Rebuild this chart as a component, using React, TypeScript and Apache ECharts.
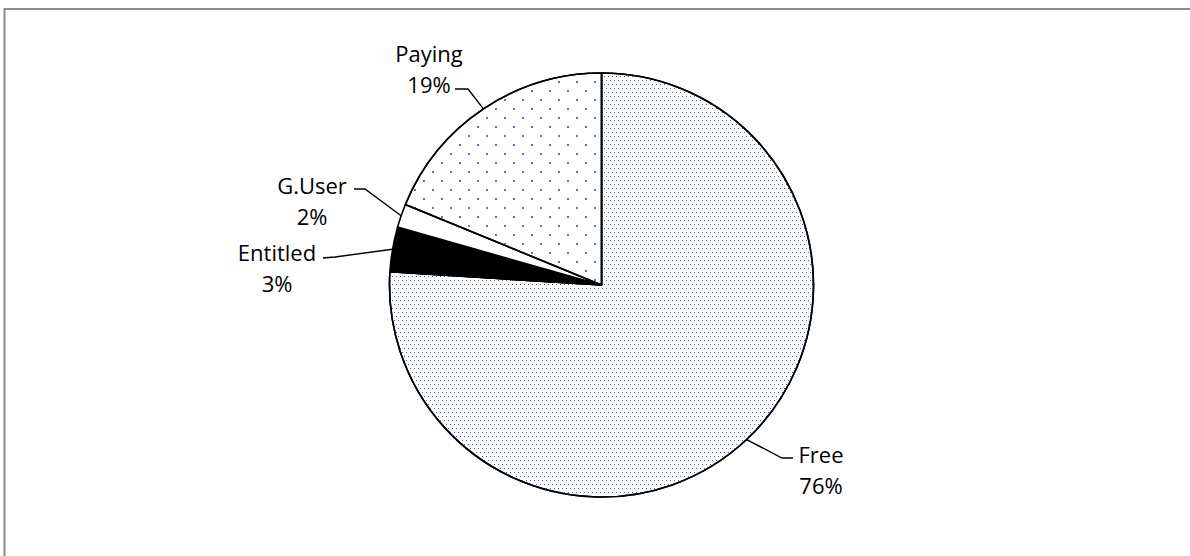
import React, { useEffect, useRef } from "react";
import * as echarts from "echarts";

// ---- data ----
const categories = ["Free", "Entitled", "G.User", "Paying"];
const shares = [76.0, 3.4, 1.8, 18.8];

// ---- label placement (label block centre and leader-line bends), page px ----
const labelCentres: number[][] = [
  [821, 469],
  [277, 267],
  [312, 200],
  [429, 68],
];
const leaderBends: number[][][] = [
  [[782, 458], [793, 458]],
  [[335, 257], [323, 258]],
  [[365, 189], [354, 189]],
  [[468, 89], [455, 89]],
];

const BLUE = "#4a7cc9";
const DENSE_BLUE = "#3a68b8";
const FONT = "'Open Sans', 'Noto Sans', sans-serif";

export default function App() {
  const ref = useRef<HTMLDivElement>(null);
  useEffect(() => {
    document.body.style.margin = "0";
    const chart = echarts.init(ref.current!, undefined, { renderer: "svg" });

    const styles = [
      {
        color: "#ffffff",
        decal: {
          symbol: "rect",
          symbolSize: 1,
          color: DENSE_BLUE,
          backgroundColor: "#ffffff",
          dashArrayX: [
            [1, 3],
            [0, 2, 1, 1],
          ],
          dashArrayY: [1, 3],
          rotation: 0,
        },
      },
      { color: "#000000" },
      { color: "#ffffff" },
      {
        color: "#ffffff",
        decal: {
          symbol: "rect",
          symbolSize: 1,
          color: BLUE,
          backgroundColor: "#ffffff",
          dashArrayX: [
            [1.5, 15.5],
            [0, 8.5, 1.5, 7],
          ],
          dashArrayY: [1.5, 7],
          rotation: 0,
        },
      },
    ];

    chart.setOption({
      animation: false,
      backgroundColor: "#ffffff",
      graphic: [
        {
          type: "rect",
          shape: { x: 4.5, y: 9, width: 1200, height: 600 },
          style: { fill: "none", stroke: "#8c8c8c", lineWidth: 2 },
          silent: true,
        },
      ],
      series: [
        {
          type: "pie",
          center: [601.5, 285],
          radius: 212,
          startAngle: 90,
          clockwise: true,
          percentPrecision: 0,
          avoidLabelOverlap: false,
          itemStyle: { borderColor: "#000000", borderWidth: 1.6 },
          label: {
            show: true,
            position: "outside",
            formatter: "{b}\n{d}%",
            fontFamily: FONT,
            fontSize: 22,
            lineHeight: 31,
            color: "#000000",
            align: "center",
          },
          labelLine: {
            show: true,
            length: 20,
            length2: 12,
            lineStyle: { color: "#000000", width: 1.4 },
          },
          labelLayout: (params: any) => {
            const i = params.dataIndex;
            const edge = params.labelLinePoints
              ? params.labelLinePoints[0]
              : [0, 0];
            return {
              x: labelCentres[i][0],
              y: labelCentres[i][1],
              align: "center",
              verticalAlign: "middle",
              labelLinePoints: [edge, ...leaderBends[i]],
            };
          },
          data: categories.map((name, i) => ({
            name,
            value: shares[i],
            itemStyle: styles[i],
          })),
        },
      ],
    });
    return () => chart.dispose();
  }, []);
  return <div ref={ref} style={{ width: 1190, height: 556 }} />;
}
